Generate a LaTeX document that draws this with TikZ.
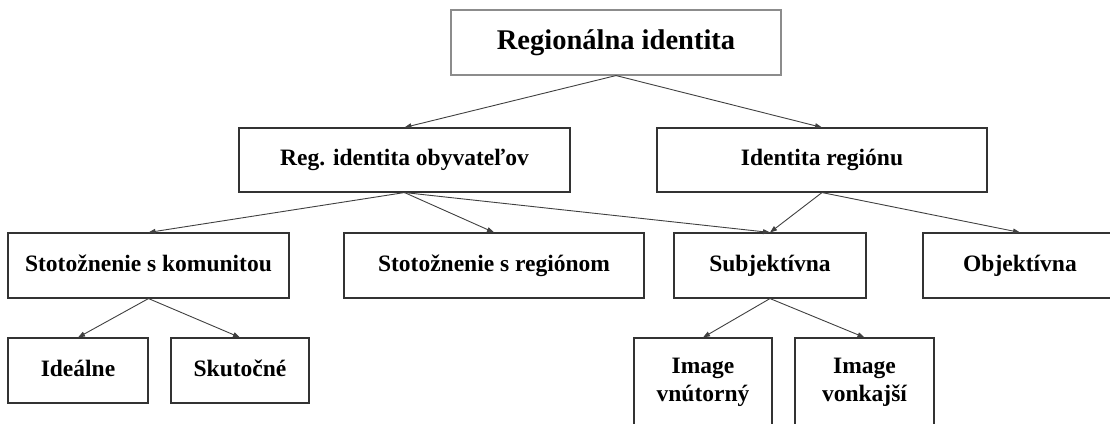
\documentclass[tikz,border=0pt]{standalone}
\usepackage{fontspec}
\setmainfont{Liberation Serif}
\usetikzlibrary{arrows.meta}
\begin{document}
\begin{tikzpicture}[x=1pt,y=-1pt,
  box/.style={draw=black!80, line width=1.1pt, rectangle, inner sep=0pt, font=\bfseries\fontsize{23.5}{28}\selectfont, align=center},
  onebox/.style={box, text height=16pt, text depth=5pt},
  topbox/.style={box, draw=black!45, font=\bfseries\fontsize{28.5}{32}\selectfont, text height=19pt, text depth=6pt},
  conn/.style={draw=black!75, line width=0.9pt, -{Triangle[length=7pt,width=5pt]}}]
\useasboundingbox (0,0) rectangle (1110,423);
\clip (0,0) rectangle (1110,423);
\node[topbox, minimum width=330, minimum height=65] (top) at (616,42.5) {Regionálna identita};
\node[onebox, minimum width=331, minimum height=64] (rio) at (404.5,160) {Reg. identita obyvateľov};
\node[onebox, minimum width=330, minimum height=64] (ir) at (822,160) {Identita regiónu};
\node[onebox, minimum width=281, minimum height=65] (kom) at (148.5,265.5) {Stotožnenie s komunitou};
\node[onebox, minimum width=300, minimum height=65] (reg) at (494,265.5) {Stotožnenie s regiónom};
\node[onebox, minimum width=192, minimum height=65] (sub) at (770,265.5) {Subjektívna};
\node[onebox, minimum width=194, minimum height=65] (obj) at (1020,265.5) {Objektívna};
\node[onebox, minimum width=140, minimum height=65] (ide) at (78,370.5) {Ideálne};
\node[onebox, minimum width=138, minimum height=65] (sku) at (240,370.5) {Skutočné};
\node[box, minimum width=138, minimum height=88] (vnu) at (703,382) {Image\\vnútorný};
\node[box, minimum width=139, minimum height=88] (von) at (864.5,382) {Image\\vonkajší};
\draw[conn] (top.south) -- (rio.north);
\draw[conn] (top.south) -- (ir.north);
\draw[conn] (rio.south) -- (kom.north);
\draw[conn] (rio.south) -- (reg.north);
\draw[conn] (rio.south) -- (sub.north);
\draw[conn] (ir.south) -- (sub.north);
\draw[conn] (ir.south) -- (obj.north);
\draw[conn] (kom.south) -- (ide.north);
\draw[conn] (kom.south) -- (sku.north);
\draw[conn] (sub.south) -- (vnu.north);
\draw[conn] (sub.south) -- (von.north);
\end{tikzpicture}
\end{document}
